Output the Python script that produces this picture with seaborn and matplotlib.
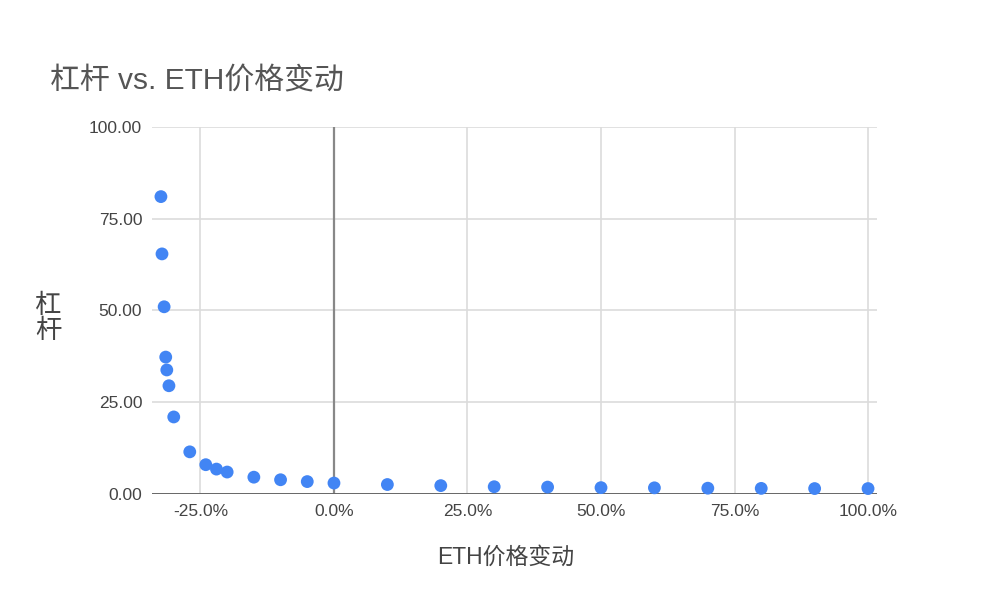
import matplotlib
matplotlib.use("Agg")
import matplotlib.pyplot as plt
import matplotlib.ticker as mticker
import seaborn as sns
import pandas as pd

# ETH价格变动 (%) 与 杠杆
price_change = [-32.4, -32.2, -31.8, -31.5, -31.3, -30.9, -30.0, -27.0, -24.0, -22.0,
                -20.0, -15.0, -10.0, -5.0, 0.0, 10.0, 20.0, 30.0, 40.0, 50.0,
                60.0, 70.0, 80.0, 90.0, 100.0]
leverage = [81.0, 65.4, 51.0, 37.3, 33.8, 29.5, 21.0, 11.5, 8.0, 6.8,
            6.0, 4.6, 3.9, 3.4, 3.0, 2.6, 2.3, 2.0, 1.9, 1.75,
            1.7, 1.6, 1.55, 1.5, 1.5]
x_ticks = [-25, 0, 25, 50, 75, 100]
y_ticks = [0, 25, 50, 75, 100]

df = pd.DataFrame({"x": price_change, "y": leverage})

sns.set_style("white")
plt.rcParams["font.family"] = ["Liberation Sans", "Noto Sans CJK SC", "DejaVu Sans"]

fig = plt.figure(figsize=(9.99, 6.04), dpi=100)
ax = fig.add_axes([0.152, 0.182, 0.726, 0.608])

# 网格线
for v in x_ticks:
    if v == 0:
        ax.axvline(v, color="#888888", lw=1.6, zorder=1)
    else:
        ax.axvline(v, color="#dcdcdc", lw=1.2, zorder=0)
for v in y_ticks[1:]:
    ax.axhline(v, color="#dcdcdc", lw=1.2, zorder=0)
ax.axhline(0, color="#666666", lw=1.4, zorder=1)

sns.scatterplot(data=df, x="x", y="y", ax=ax, color="#4285f4", s=85,
                edgecolor="none", zorder=3, clip_on=False)

ax.set_xlim(-34.1, 101.7)
ax.set_ylim(0, 100)
ax.set_xticks(x_ticks)
ax.set_yticks(y_ticks)
ax.xaxis.set_major_formatter(mticker.FuncFormatter(lambda v, p: f"{v:.1f}%"))
ax.yaxis.set_major_formatter(mticker.FuncFormatter(lambda v, p: f"{v:.2f}"))
ax.tick_params(length=0, labelsize=12.5, colors="#444444", pad=7)
for s in ax.spines.values():
    s.set_visible(False)

ax.set_xlabel("")
ax.set_ylabel("")
fig.text(0.506, 0.077, "ETH价格变动", ha="center", va="center", fontsize=16.5, color="#444444")
fig.text(0.048, 0.473, "杠\n杆", ha="center", va="center", fontsize=19, color="#444444",
         linespacing=1.0)
fig.text(0.05, 0.866, "杠杆 vs. ETH价格变动", ha="left", va="center", fontsize=21.5, color="#555555")

fig.savefig("out.png", dpi=100)
